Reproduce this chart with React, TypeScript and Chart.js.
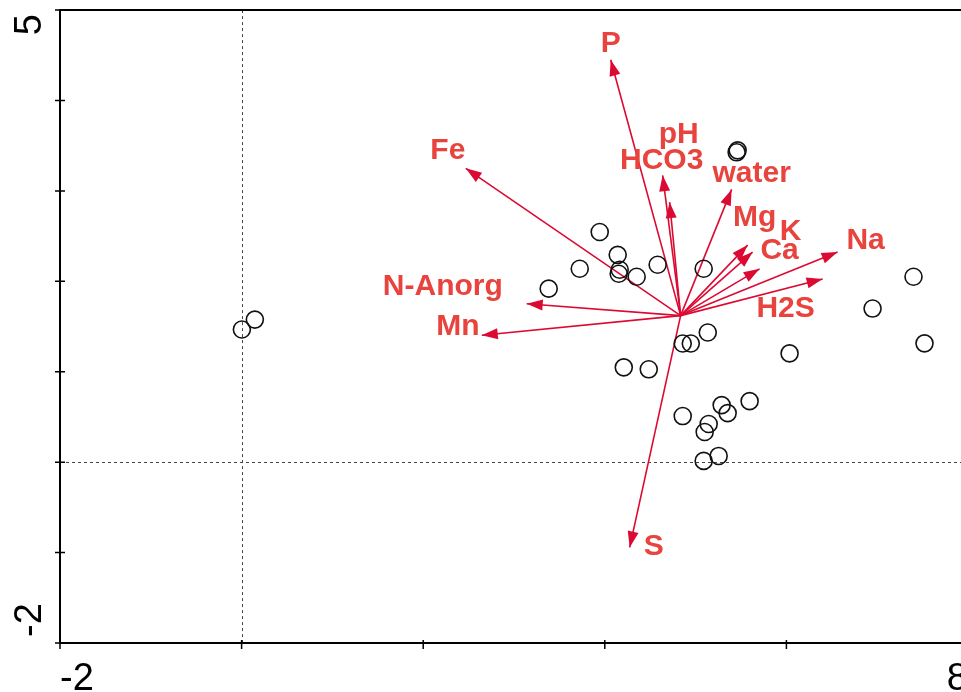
import React, { useEffect, useRef } from "react";
import { Chart, registerables } from "chart.js";

Chart.register(...registerables);

// Sample scores (sites)
const siteX = [0.003, 0.146, 3.382, 3.724, 3.944, 4.142, 4.164, 4.153, 4.351, 4.582, 5.089, 5.452, 5.463, 7.4, 6.949, 7.521, 6.035, 5.134, 4.858, 4.947, 4.209, 4.484, 5.595, 5.287, 5.353, 4.858, 5.144, 5.1, 5.254, 5.089];
const siteY = [1.467, 1.577, 1.919, 2.139, 2.546, 2.293, 2.128, 2.084, 2.051, 2.183, 2.139, 3.427, 3.449, 2.051, 1.699, 1.314, 1.203, 1.434, 1.313, 1.313, 1.049, 1.027, 0.675, 0.631, 0.543, 0.51, 0.422, 0.334, 0.069, 0.014];

// Environmental variable arrows
const arrowOrigin = [4.835, 1.621];
const arrowNames = ["P", "Fe", "pH", "HCO3", "water", "Mg", "K", "Ca", "Na", "H2S", "N-Anorg", "Mn", "S"];
const arrowX = [4.065, 2.469, 4.637, 4.714, 5.397, 5.573, 5.628, 5.705, 6.564, 6.399, 3.14, 2.645, 4.274];
const arrowY = [4.45, 3.25, 3.173, 2.876, 3.017, 2.401, 2.324, 2.138, 2.324, 2.027, 1.753, 1.403, -0.943];
const labelX = [4.065, 2.271, 4.813, 4.626, 5.617, 5.65, 6.046, 5.925, 6.872, 5.991, 2.216, 2.381, 4.538];
const labelY = [4.541, 3.351, 3.525, 3.239, 3.097, 2.612, 2.458, 2.249, 2.359, 1.61, 1.852, 1.403, -1.032];

// Axes
const xMin = -2, xMax = 8, yMin = -2, yMax = 5;
const xTickValues = [-2, 0, 2, 4, 6, 8];
const yTickValues = [-2, -1, 0, 1, 2, 3, 4, 5];
const xEdgeLabels = ["-2", "8"];
const yEdgeLabels = ["-2", "5"];

const ARROW_COLOR = "#dc0a32";
const TEXT_COLOR = "#e8433c";

const biplotPlugin = {
  id: "biplot",
  beforeDatasetsDraw(chart: any) {
    const { ctx, chartArea: a, scales } = chart;
    const x = scales.x, y = scales.y;
    ctx.save();
    ctx.strokeStyle = "#444";
    ctx.lineWidth = 1;
    ctx.setLineDash([3, 3]);
    const x0 = Math.round(x.getPixelForValue(0)) + 0.5;
    const y0 = Math.round(y.getPixelForValue(0)) + 0.5;
    ctx.beginPath();
    ctx.moveTo(x0, a.top);
    ctx.lineTo(x0, a.bottom);
    ctx.moveTo(a.left, y0);
    ctx.lineTo(a.right, y0);
    ctx.stroke();
    ctx.restore();
  },
  afterDatasetsDraw(chart: any) {
    const { ctx, chartArea: a, scales } = chart;
    const x = scales.x, y = scales.y;
    ctx.save();
    // arrowheads
    const ox = x.getPixelForValue(arrowOrigin[0]);
    const oy = y.getPixelForValue(arrowOrigin[1]);
    ctx.fillStyle = ARROW_COLOR;
    for (let i = 0; i < arrowNames.length; i++) {
      const tx = x.getPixelForValue(arrowX[i]);
      const ty = y.getPixelForValue(arrowY[i]);
      const ang = Math.atan2(ty - oy, tx - ox);
      const len = 16, hw = 5.5;
      const bx = tx - len * Math.cos(ang);
      const by = ty - len * Math.sin(ang);
      ctx.beginPath();
      ctx.moveTo(tx, ty);
      ctx.lineTo(bx + hw * Math.sin(ang), by - hw * Math.cos(ang));
      ctx.lineTo(bx - hw * Math.sin(ang), by + hw * Math.cos(ang));
      ctx.closePath();
      ctx.fill();
    }
    // labels
    ctx.fillStyle = TEXT_COLOR;
    ctx.font = "bold 30px 'Liberation Sans', Arial, sans-serif";
    ctx.textAlign = "center";
    ctx.textBaseline = "alphabetic";
    for (let i = 0; i < arrowNames.length; i++) {
      ctx.fillText(arrowNames[i], x.getPixelForValue(labelX[i]), y.getPixelForValue(labelY[i]));
    }
    // axes frame
    ctx.strokeStyle = "#000";
    ctx.lineWidth = 2;
    ctx.beginPath();
    ctx.rect(a.left, a.top, a.right - a.left, a.bottom - a.top);
    ctx.stroke();
    // ticks
    ctx.lineWidth = 1.5;
    ctx.beginPath();
    for (const v of yTickValues) {
      const py = y.getPixelForValue(v);
      ctx.moveTo(a.left - 5, py);
      ctx.lineTo(a.left + 5, py);
    }
    for (const v of xTickValues) {
      const px = x.getPixelForValue(v);
      ctx.moveTo(px, a.bottom - 3);
      ctx.lineTo(px, a.bottom + 6);
    }
    ctx.stroke();
    // edge tick labels
    ctx.fillStyle = "#000";
    ctx.font = "38px 'Liberation Sans', Arial, sans-serif";
    ctx.textBaseline = "alphabetic";
    ctx.textAlign = "left";
    ctx.fillText(xEdgeLabels[0], x.getPixelForValue(xMin), a.bottom + 47);
    ctx.textAlign = "right";
    ctx.fillText(xEdgeLabels[1], x.getPixelForValue(xMax), a.bottom + 47);
    // y labels rotated
    ctx.save();
    ctx.translate(a.left - 19, y.getPixelForValue(yMin) - 6);
    ctx.rotate(-Math.PI / 2);
    ctx.textAlign = "left";
    ctx.fillText(yEdgeLabels[0], 0, 0);
    ctx.restore();
    ctx.save();
    ctx.translate(a.left - 19, y.getPixelForValue(yMax) + 4);
    ctx.rotate(-Math.PI / 2);
    ctx.textAlign = "right";
    ctx.fillText(yEdgeLabels[1], 0, 0);
    ctx.restore();
    ctx.restore();
  },
};

export default function App() {
  const ref = useRef<HTMLCanvasElement | null>(null);
  useEffect(() => {
    if (!ref.current) return;
    const arrowSets = arrowNames.map((name, i) => ({
      type: "line" as const,
      label: name,
      data: [
        { x: arrowOrigin[0], y: arrowOrigin[1] },
        { x: arrowX[i], y: arrowY[i] },
      ],
      borderColor: ARROW_COLOR,
      borderWidth: 1.6,
      pointRadius: 0,
      showLine: true,
      fill: false,
    }));
    const chart = new Chart(ref.current, {
      type: "scatter",
      data: {
        datasets: [
          {
            label: "sites",
            data: siteX.map((v, i) => ({ x: v, y: siteY[i] })),
            backgroundColor: "rgba(0,0,0,0)",
            borderColor: "#111",
            borderWidth: 1.6,
            pointRadius: 8.5,
            pointStyle: "circle",
          },
          ...arrowSets,
        ] as any,
      },
      options: {
        responsive: false,
        animation: false,
        devicePixelRatio: 1,
        layout: { padding: { left: 60, top: 7, right: 32, bottom: 49 } },
        plugins: { legend: { display: false }, tooltip: { enabled: false } },
        scales: {
          x: { type: "linear", min: xMin, max: xMax, display: false },
          y: { type: "linear", min: yMin, max: yMax, display: false },
        },
      },
      plugins: [biplotPlugin],
    });
    return () => chart.destroy();
  }, []);
  return (
    <div style={{ position: "fixed", left: 0, top: 0, width: 961, height: 692, overflow: "hidden", background: "#fff" }}>
      <canvas ref={ref} width={1000} height={692} style={{ display: "block" }} />
    </div>
  );
}
